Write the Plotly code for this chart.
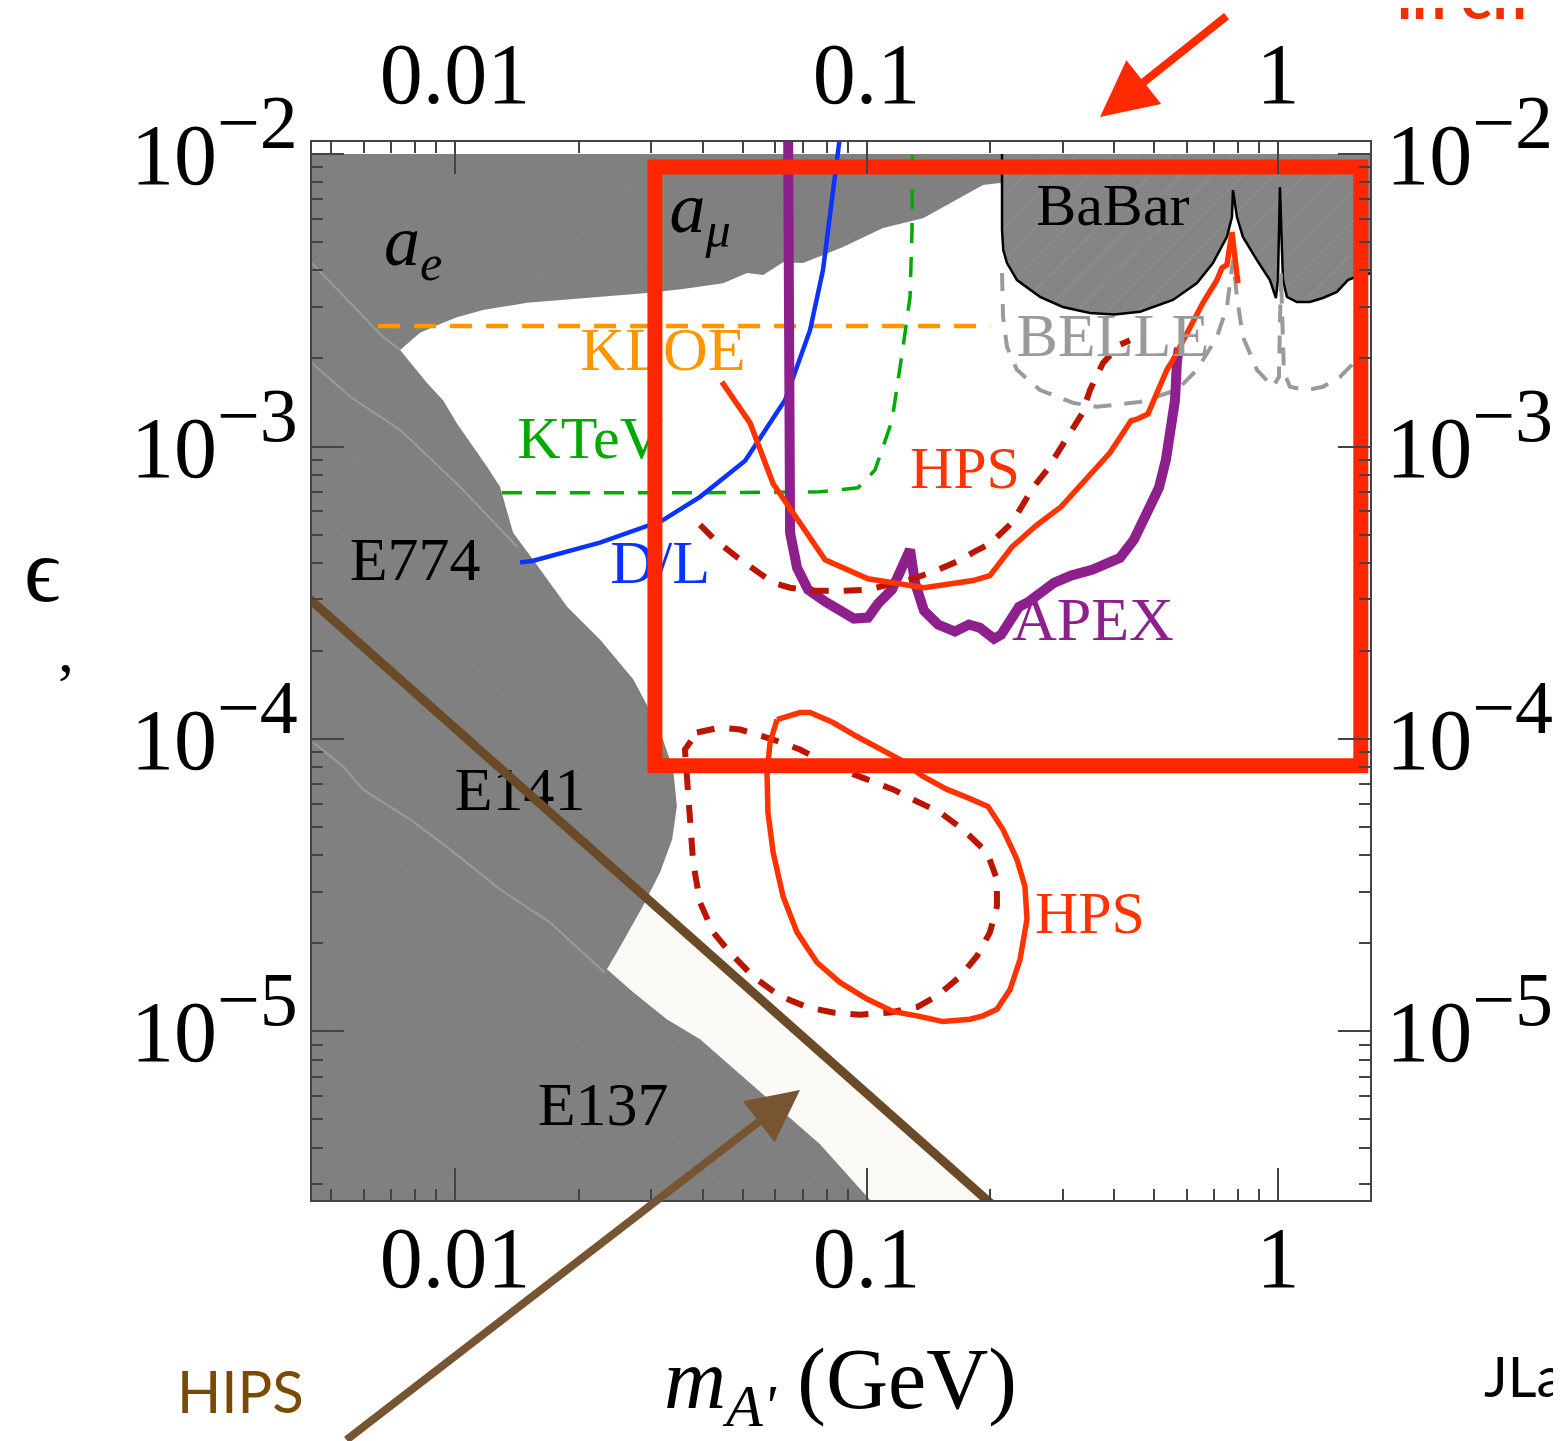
import math
import plotly.graph_objects as go

# ---------------- axes / ticks ----------------
x_range = (0.00449, 1.674)          # GeV
y_range = (2.65e-6, 0.0110)         # epsilon
x_major_vals = [0.01, 0.1, 1]
x_major_text = ["0.01", "0.1", "1"]
x_minor_vals = [0.005, 0.006, 0.007, 0.008, 0.009,
                0.02, 0.03, 0.04, 0.05, 0.06, 0.07, 0.08, 0.09,
                0.2, 0.3, 0.4, 0.5, 0.6, 0.7, 0.8, 0.9]
y_major_vals = [1e-5, 1e-4, 1e-3, 1e-2]
y_exponents = ["−5", "−4", "−3", "−2"]
y_minor_vals = [3e-6, 4e-6, 5e-6, 6e-6, 7e-6, 8e-6, 9e-6,
                2e-5, 3e-5, 4e-5, 5e-5, 6e-5, 7e-5, 8e-5, 9e-5,
                2e-4, 3e-4, 4e-4, 5e-4, 6e-4, 7e-4, 8e-4, 9e-4,
                2e-3, 3e-3, 4e-3, 5e-3, 6e-3, 7e-3, 8e-3, 9e-3]

# ---------------- excluded regions ----------------
# union of a_e, a_mu, E774, E141, E137 (grey)
excl_m = [0.0040, 0.2135, 0.2135, 0.2111, 0.1919, 0.1372, 0.1097, 0.0877, 0.0701,
          0.0627, 0.0561, 0.0513, 0.0448, 0.0358, 0.0293, 0.0225, 0.01496, 0.01170,
          0.01011, 0.00935, 0.00822, 0.00735,
          0.00855, 0.00935, 0.0101, 0.01196, 0.01286, 0.01384, 0.01548, 0.01872,
          0.0225, 0.0271, 0.0303, 0.0320, 0.0339, 0.0346, 0.0337, 0.0315, 0.0286,
          0.0252, 0.0234,
          0.0271, 0.0327, 0.0394, 0.0551, 0.0771, 0.1020, 0.1078, 0.0040]
excl_eps = [0.0100, 0.0100, 0.00790, 0.00796, 0.00784, 0.00604, 0.00559, 0.00481, 0.00424,
            0.00427, 0.00386, 0.00392, 0.00362, 0.00346, 0.00335, 0.00325, 0.00310, 0.00293,
            0.00277, 0.00265, 0.00245, 0.00214,
            0.00165, 0.00144, 0.00120, 0.000852, 0.000729, 0.000507, 0.000410, 0.000283,
            0.000219, 0.000160, 0.0001193, 0.0000995, 0.0000786, 0.0000588, 0.0000453,
            0.0000350, 0.0000268, 0.0000195, 0.0000163,
            0.0000136, 0.0000110, 0.0000094, 0.00000624, 0.00000411, 0.00000265,
            0.00000247, 0.00000247]

# faint boundaries inside the grey region
edgeA_m = [0.00449, 0.00556, 0.00668, 0.00735]
edgeA_eps = [0.00424, 0.00310, 0.00237, 0.00214]
edgeB_m = [0.00449, 0.00556, 0.00735, 0.01028, 0.01415]
edgeB_eps = [0.00193, 0.00148, 0.00114, 0.000729, 0.000454]
edgeC_m = [0.00452, 0.00534, 0.00597, 0.00778, 0.00972, 0.01286, 0.0170, 0.0231]
edgeC_eps = [0.0000972, 0.0000805, 0.0000672, 0.0000530, 0.0000419, 0.0000306,
             0.0000236, 0.0000159]

# BaBar
babar_m = [0.2135, 0.2135, 0.2150, 0.2195, 0.2321, 0.2640, 0.3000, 0.3492, 0.4000,
           0.4622, 0.5558, 0.6356, 0.6950, 0.7516, 0.7731, 0.7775, 0.7950, 0.8220,
           0.8891, 0.9561, 0.9887, 1.0000, 1.0113, 1.0285, 1.0517, 1.112, 1.196,
           1.286, 1.391, 1.479, 1.521, 1.721]
babar_eps = [0.0100, 0.00550, 0.00470, 0.00424, 0.00371, 0.00325, 0.00300, 0.00286,
             0.00283, 0.00289, 0.00317, 0.00362, 0.00424, 0.00521, 0.00609, 0.00753,
             0.00609, 0.00521, 0.00434, 0.00371, 0.00322, 0.00371, 0.00772, 0.00371,
             0.00325, 0.00312, 0.00312, 0.00322, 0.00338, 0.00371, 0.00377, 0.00395]

# BELLE (dashed)
belle_m = [0.2135, 0.2147, 0.2195, 0.2321, 0.2640, 0.3176, 0.3633, 0.4622, 0.5683,
           0.6356, 0.7108, 0.7516, 0.7775, 0.7950, 0.8220, 0.8891, 0.9723, 1.0056,
           1.017, 1.034, 1.070, 1.176, 1.286, 1.415, 1.512, 1.627]
belle_eps = [0.00392, 0.00277, 0.00219, 0.00183, 0.00156, 0.00141, 0.001367, 0.001421,
             0.00156, 0.00183, 0.00237, 0.00300, 0.00434, 0.00325, 0.00237, 0.00183,
             0.00160, 0.00173, 0.00392, 0.00179, 0.00160, 0.00156, 0.00160, 0.00173,
             0.00190, 0.00223]

# KLOE (dashed)
kloe_m = [0.0065, 0.200]
kloe_eps = [0.002585, 0.002585]

# KTeV (dashed)
ktev_m = [0.0130, 0.0394, 0.0771, 0.0954, 0.1049, 0.1153, 0.1227, 0.1276, 0.1290, 0.1293]
ktev_eps = [0.000695, 0.000695, 0.000700, 0.000723, 0.000832, 0.001224, 0.00219,
            0.00325, 0.00550, 0.0115]

# D/L
dl_m = [0.01439, 0.01548, 0.0225, 0.0318, 0.0394, 0.0507, 0.0634, 0.0729, 0.0784,
        0.0815, 0.0862]
dl_eps = [0.000401, 0.000407, 0.000469, 0.000557, 0.000673, 0.000894, 0.001443,
          0.00250, 0.00402, 0.00628, 0.0115]

# APEX
apex_m = [0.0645, 0.0648, 0.0652, 0.0678, 0.0721, 0.0793, 0.0862, 0.0932, 0.1008,
          0.1066, 0.1153, 0.1227, 0.1276, 0.1312, 0.1379, 0.1492, 0.1641, 0.1774,
          0.1887, 0.2041, 0.2123, 0.2348, 0.2483, 0.2855, 0.3140, 0.3532, 0.3819,
          0.4130, 0.4467, 0.4831, 0.5138, 0.5342, 0.5434, 0.5622, 0.5685, 0.5748]
apex_eps = [0.0115, 0.001443, 0.000507, 0.000385, 0.000324, 0.000295, 0.000275,
            0.000258, 0.000260, 0.000290, 0.000324, 0.000385, 0.000444, 0.000342,
            0.000275, 0.000246, 0.000233, 0.000246, 0.000240, 0.000220, 0.000227,
            0.000283, 0.000295, 0.000342, 0.000362, 0.000379, 0.000394, 0.000416,
            0.000480, 0.000598, 0.000723, 0.000901, 0.001096, 0.001443, 0.001977,
            0.002173]

# HPS solid (upper)
hps_m = [0.0445, 0.0521, 0.0593, 0.0793, 0.1008, 0.1379, 0.1815, 0.1995, 0.2258,
         0.2582, 0.2970, 0.3266, 0.3612, 0.3905, 0.4393, 0.4568, 0.4831, 0.5081,
         0.5373, 0.5558, 0.5778, 0.6110, 0.6573, 0.7108, 0.7310, 0.7516, 0.7731,
         0.7994]
hps_eps = [0.001663, 0.001205, 0.000746, 0.000410, 0.000353, 0.000329, 0.000348,
           0.000362, 0.000454, 0.000536, 0.000622, 0.000723, 0.000852, 0.000952,
           0.001224, 0.001244, 0.001293, 0.001526, 0.00183, 0.001977, 0.00219,
           0.00250, 0.00310, 0.00371, 0.00408, 0.00418, 0.00541, 0.00362]

# HPS dashed (upper)
hpsd_m = [0.0394, 0.0428, 0.0487, 0.0527, 0.0593, 0.0652, 0.0750, 0.0862, 0.1008,
          0.1179, 0.1297, 0.1492, 0.1678, 0.1845, 0.1995, 0.2258, 0.2539, 0.2746,
          0.3020, 0.3340, 0.3492, 0.3756, 0.4130, 0.4367]
hpsd_eps = [0.000540, 0.000480, 0.000416, 0.000385, 0.000342, 0.000329, 0.000321,
            0.000321, 0.000324, 0.000342, 0.000353, 0.000379, 0.000407, 0.000440,
            0.000465, 0.000549, 0.000723, 0.000832, 0.001038, 0.001293, 0.00156,
            0.00193, 0.00223, 0.00231]

# HPS solid (lower, displaced vertex)
hpsv_m = [0.0606, 0.0689, 0.0729, 0.0829, 0.0948, 0.1060, 0.1206, 0.1372, 0.1569,
          0.1754, 0.1973, 0.2147, 0.2321, 0.2427, 0.2455, 0.2361, 0.2233, 0.2075,
          0.1919, 0.1785, 0.1534, 0.1327, 0.1160, 0.1003, 0.0862, 0.0758, 0.0678,
          0.0627, 0.0593, 0.0576, 0.0573, 0.0583, 0.0606]
hpsv_eps = [1.165e-4, 1.231e-4, 1.231e-4, 1.138e-4, 1.019e-4, 9.42e-5, 8.50e-5,
            7.44e-5, 6.72e-5, 6.31e-5, 5.88e-5, 4.90e-5, 3.87e-5, 3.13e-5, 2.42e-5,
            1.76e-5, 1.39e-5, 1.19e-5, 1.13e-5, 1.10e-5, 1.08e-5, 1.13e-5, 1.17e-5,
            1.29e-5, 1.47e-5, 1.72e-5, 2.18e-5, 2.89e-5, 4.09e-5, 5.61e-5, 7.68e-5,
            9.72e-5, 1.165e-4]

# HPS dashed (lower, displaced vertex)
hpsvd_m = [0.0387, 0.0441, 0.0493, 0.0593, 0.0689, 0.0829, 0.1003, 0.1160, 0.1327,
           0.1509, 0.1716, 0.1963, 0.2075, 0.2075, 0.1995, 0.1856, 0.1688, 0.1483,
           0.1327, 0.1140, 0.0964, 0.0829, 0.0717, 0.0616, 0.0530, 0.0466, 0.0424,
           0.0394, 0.0379, 0.0373, 0.0366, 0.0362, 0.0387]
hpsvd_eps = [1.052e-4, 1.094e-4, 1.077e-4, 9.95e-5, 9.20e-5, 8.05e-5, 7.27e-5,
             6.72e-5, 6.11e-5, 5.61e-5, 4.90e-5, 4.09e-5, 3.31e-5, 2.68e-5, 2.18e-5,
             1.81e-5, 1.54e-5, 1.32e-5, 1.21e-5, 1.16e-5, 1.14e-5, 1.16e-5, 1.21e-5,
             1.32e-5, 1.54e-5, 1.86e-5, 2.18e-5, 2.76e-5, 3.78e-5, 5.30e-5, 7.27e-5,
             9.20e-5, 1.052e-4]

# HIPS line and the light region under it
hips_m = [0.00439, 0.2075]
hips_eps = [0.000304, 0.00000247]
hips_region_m = [0.00439, 0.2075, 0.2075, 0.00439]
hips_region_eps = [0.000304, 0.00000247, 0.0000020, 0.0000020]

# highlighted window (red box)
box_m = [0.0306, 1.59, 1.59, 0.0306, 0.0306, 1.59]
box_eps = [9.03e-3, 9.03e-3, 8.09e-5, 8.09e-5, 9.03e-3, 9.03e-3]

# in-plot labels
label_text = ["<i>a</i><sub><i>e</i></sub>", "<i>a</i><sub><i>μ</i></sub>", "BaBar", "BELLE",
              "KLOE", "KTeV", "D/L", "HPS", "APEX", "E774", "E141", "E137", "HPS"]
label_m = [0.00791, 0.0394, 0.397, 0.397, 0.0320, 0.0213, 0.0315, 0.1735, 0.3551,
           0.00800, 0.01439, 0.0229, 0.3492]
label_eps = [0.00480, 0.00625, 0.00644, 0.00231, 0.00206, 0.00103, 0.000385, 0.000813,
             0.000246, 0.000394, 0.0000646, 0.00000542, 0.0000245]
label_size = [72, 72, 60, 62, 62, 60, 62, 60, 62, 62, 62, 62, 60]
label_color = ["black", "black", "black", "#9a9a9a", "#ff9600", "#00aa00", "#0a33ff",
               "#ff3300", "#8e208e", "black", "black", "black", "#ff3300"]

SERIF = "Liberation Serif, Times New Roman, serif"
GREY = "#808080"

y_major_text = ["10<sup><span style='font-size:76px'>%s</span></sup>" % e for e in y_exponents]

fig = go.Figure()


def line(x, y, color, width, dash="solid", shape="linear"):
    fig.add_trace(go.Scatter(x=x, y=y, mode="lines", hoverinfo="skip",
                             line=dict(color=color, width=width, dash=dash, shape=shape)))


# light region under HIPS line
fig.add_trace(go.Scatter(x=hips_region_m, y=hips_region_eps, mode="lines", fill="toself",
                         fillcolor="#fbfaf7", line=dict(width=0), hoverinfo="skip"))
# grey excluded regions (faint mesh texture like the original rendering)
fig.add_trace(go.Scatter(x=excl_m, y=excl_eps, mode="lines", fill="toself",
                         fillcolor=GREY, line=dict(width=0), hoverinfo="skip",
                         fillpattern=dict(shape="x", size=64, solidity=0.025,
                                          fgcolor="#8e8e8e", bgcolor=GREY)))
line(edgeA_m, edgeA_eps, "#9a9a9a", 2)
line(edgeB_m, edgeB_eps, "#9a9a9a", 2)
line(edgeC_m, edgeC_eps, "#9a9a9a", 2)
# BaBar
fig.add_trace(go.Scatter(x=babar_m + [babar_m[-1]], y=babar_eps + [0.0100], mode="lines",
                         fill="toself", fillcolor="#878787", line=dict(width=0),
                         hoverinfo="skip",
                         fillpattern=dict(shape="/", size=22, solidity=0.06,
                                          fgcolor="#959595", bgcolor="#858585")))
line(babar_m, babar_eps, "black", 2.5)

line(kloe_m, kloe_eps, "#ff9600", 4.5, dash="22px,14px")
line(belle_m, belle_eps, "#9a9a9a", 4, dash="18px,13px")
line(ktev_m, ktev_eps, "#00aa00", 3.5, dash="20px,14px")
line(dl_m, dl_eps, "#0a33ff", 4.5)
line(apex_m, apex_eps, "#8e208e", 10)
line(hpsd_m, hpsd_eps, "#bb1500", 6, dash="18px,15px")
line(hps_m, hps_eps, "#ff3300", 5.5)
line(hpsvd_m, hpsvd_eps, "#bb1500", 6, dash="18px,15px")
line(hpsv_m, hpsv_eps, "#ff3300", 5.5)

# labels
fig.add_trace(go.Scatter(x=label_m, y=label_eps, mode="text", text=label_text,
                         textposition="middle center", hoverinfo="skip",
                         textfont=dict(family=SERIF, size=label_size, color=label_color)))

line(hips_m, hips_eps, "#6b4a28", 9)
line(box_m, box_eps, "#ff2600", 15)

# dummy trace to register the mirrored axes
fig.add_trace(go.Scatter(x=[], y=[], xaxis="x2", yaxis="y2", hoverinfo="skip"))

axis_common = dict(type="log", showgrid=False, zeroline=False, showline=True,
                   linecolor="#444444", linewidth=2, ticks="inside", ticklen=32,
                   tickwidth=1.5, tickcolor="#444444", automargin=False,
                   tickfont=dict(family=SERIF, size=86, color="black"))
xr = [math.log10(x_range[0]), math.log10(x_range[1])]
yr = [math.log10(y_range[0]), math.log10(y_range[1])]
xminor = dict(tickmode="array", tickvals=x_minor_vals, ticks="inside", ticklen=11,
              tickwidth=1.5, tickcolor="#444444", showgrid=False)
yminor = dict(tickmode="array", tickvals=y_minor_vals, ticks="inside", ticklen=11,
              tickwidth=1.5, tickcolor="#444444", showgrid=False)

# the page body adds an 8 px offset; the figure is sized so the plot lands where
# the reference has it (page pixels 312..1370 x 142..1200)
fig.update_layout(
    width=1553, height=1433,
    margin=dict(l=304, r=191, t=134, b=241, autoexpand=False),
    paper_bgcolor="white", plot_bgcolor="white",
    showlegend=False, hovermode=False,
    xaxis=dict(axis_common, range=xr, tickmode="array", tickvals=x_major_vals,
               ticktext=x_major_text, minor=xminor, ticklabelstandoff=-18),
    xaxis2=dict(axis_common, range=xr, tickmode="array", tickvals=x_major_vals,
                ticktext=x_major_text, minor=xminor, overlaying="x", side="top",
                anchor="y", ticklabelstandoff=3),
    yaxis=dict(axis_common, range=yr, tickmode="array", tickvals=y_major_vals,
               ticktext=y_major_text, minor=yminor, ticklabelstandoff=-5),
    yaxis2=dict(axis_common, range=yr, tickmode="array", tickvals=y_major_vals,
                ticktext=y_major_text, minor=yminor, overlaying="y", side="right",
                anchor="x", ticklabelstandoff=-3),
)


def px(xp):
    return (xp - 312) / 1058.0


def py(yp):
    return (1200 - yp) / 1058.0


ann = [
    dict(text="ϵ", x=px(42), y=py(570), font=dict(family=SERIF, size=90, color="black")),
    dict(text=",", x=px(66), y=py(650), font=dict(family=SERIF, size=64, color="black")),
    dict(text="<i>m</i><sub><i>A'</i></sub> (GeV)", x=px(840), y=py(1385),
         font=dict(family=SERIF, size=86, color="black")),
    dict(text="HIPS", x=px(240), y=py(1390),
         font=dict(family="Lato, Open Sans, sans-serif", size=58, color="#7a4a00")),
    dict(text="JLab", x=px(1482), y=py(1375), xanchor="left",
         font=dict(family="Lato, Open Sans, sans-serif", size=56, color="black")),
    dict(text="<b>in en</b>", x=px(1395), y=py(-4), xanchor="left",
         font=dict(family="Lato, Open Sans, sans-serif", size=60, color="#ee3000")),
]
for a in ann:
    a.setdefault("xanchor", "center")
    fig.add_annotation(xref="paper", yref="paper", showarrow=False, yanchor="middle", **a)

# arrows
fig.add_annotation(xref="paper", yref="paper", x=px(1100), y=py(117), ax=128, ay=-102,
                   text="", showarrow=True, arrowhead=2, arrowsize=1.4, arrowwidth=8,
                   arrowcolor="#ff2a00", standoff=0)
fig.add_annotation(xref="paper", yref="paper", x=px(800), y=py(1090), ax=-455, ay=360,
                   text="", showarrow=True, arrowhead=2, arrowsize=1.3, arrowwidth=8,
                   arrowcolor="#785532", standoff=0)

fig.write_html("out.html")
